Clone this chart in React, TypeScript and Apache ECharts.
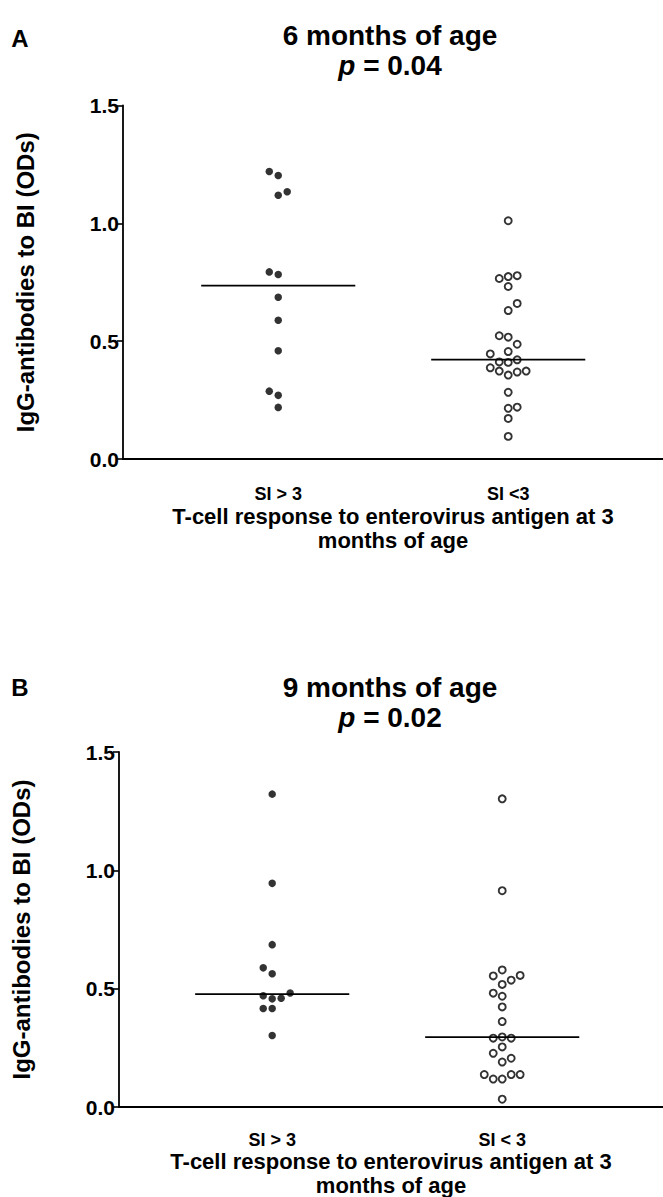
import React, { useEffect, useRef } from "react";
import * as echarts from "echarts";

// ---------- data ----------
const categoriesA = ["SI > 3", "SI <3"];
const categoriesB = ["SI > 3", "SI < 3"];
const tickLabels = ["0.0", "0.5", "1.0", "1.5"];

const titleA = "6 months of age";
const pA = "0.04";
const titleB = "9 months of age";
const pB = "0.02";
const yName = "IgG-antibodies to BI (ODs)";
const xName = "T-cell response to enterovirus antigen at 3\nmonths of age";

// Panel A: SI > 3 (filled)
const aHighValues = [1.22, 1.203, 1.119, 1.134, 0.794, 0.783, 0.686, 0.589, 0.459, 0.288, 0.27, 0.219];
const aHighCols = [-1, 0, 0, 1, -1, 0, 0, 0, 0, -1, 0, 0];
// Panel A: SI < 3 (open)
const aLowValues = [1.011, 0.766, 0.774, 0.778, 0.732, 0.66, 0.63, 0.523, 0.517, 0.487, 0.456, 0.446, 0.412, 0.41, 0.421, 0.387, 0.373, 0.356, 0.369, 0.373, 0.283, 0.215, 0.22, 0.172, 0.096];
const aLowCols = [0, -1, 0, 1, 0, 1, 0, -1, 0, 1, 0, -2, -1, 0, 1, -2, -1, 0, 1, 2, 0, 0, 1, 0, 0];
const mediansA = [0.736, 0.422];

// Panel B: SI > 3 (filled)
const bHighValues = [1.322, 0.945, 0.686, 0.588, 0.563, 0.482, 0.47, 0.457, 0.46, 0.416, 0.416, 0.302];
const bHighCols = [0, 0, 0, -1, 0, 2, -1, 0, 1, -1, 0, 0];
// Panel B: SI < 3 (open)
const bLowValues = [1.302, 0.914, 0.579, 0.554, 0.556, 0.536, 0.518, 0.481, 0.468, 0.423, 0.361, 0.291, 0.296, 0.291, 0.254, 0.227, 0.206, 0.19, 0.137, 0.118, 0.118, 0.137, 0.137, 0.033];
const bLowCols = [0, 0, 0, -1, 2, 1, 0, -1, 0, 0, 0, -1, 0, 1, 0, -1, 1, 0, -2, -1, 0, 1, 2, 0];
const mediansB = [0.477, 0.295];

// ---------- layout / style ----------
const FONT = "'Liberation Sans', Arial, sans-serif";
const JITTER = 0.039;
const HALF = 0.335;

function pts(center: number, values: number[], cols: number[]) {
  return values.map((v, i) => [center + cols[i] * JITTER, v]);
}
function medianLine(center: number, m: number) {
  return [
    [center - HALF, m],
    [center + HALF, m],
  ];
}

function xAxis(gridIndex: number, min: number, max: number, cats: string[], nameGap: number, labelMargin: number) {
  return {
    type: "value",
    gridIndex,
    min,
    max,
    axisLine: { show: true, onZero: false, lineStyle: { color: "#000", width: 1.8 } },
    axisTick: { show: false },
    splitLine: { show: false },
    axisLabel: {
      customValues: [1, 2],
      formatter: (v: number) => cats[Math.round(v) - 1] ?? "",
      color: "#000",
      fontFamily: FONT,
      fontWeight: "bold",
      fontSize: 18,
      margin: labelMargin,
    },
    name: xName,
    nameLocation: "middle",
    nameGap,
    nameTextStyle: {
      color: "#000",
      fontFamily: FONT,
      fontWeight: "bold",
      fontSize: 22,
      lineHeight: 24,
    },
  };
}

function yAxis(gridIndex: number) {
  return {
    type: "value",
    gridIndex,
    min: 0,
    max: 1.5,
    interval: 0.5,
    axisLine: { show: true, onZero: false, lineStyle: { color: "#000", width: 1.8 } },
    axisTick: { show: true, length: 6, lineStyle: { color: "#000", width: 1.6 } },
    splitLine: { show: false },
    axisLabel: {
      formatter: (v: number) => tickLabels[Math.round(v / 0.5)] ?? "",
      color: "#000",
      fontFamily: FONT,
      fontWeight: "bold",
      fontSize: 21,
      margin: 4,
    },
    name: yName,
    nameLocation: "middle",
    nameGap: 86,
    nameTextStyle: {
      color: "#000",
      fontFamily: FONT,
      fontWeight: "bold",
      fontSize: 24,
    },
  };
}

function scatter(xi: number, values: number[][], open: boolean) {
  return {
    type: "scatter",
    xAxisIndex: xi,
    yAxisIndex: xi,
    data: values,
    symbol: "circle",
    symbolSize: open ? 7 : 7.5,
    itemStyle: open
      ? { color: "#fff", borderColor: "#000", borderWidth: 1.9 }
      : { color: "#000" },
    silent: true,
  };
}

function median(xi: number, data: number[][]) {
  return {
    type: "line",
    xAxisIndex: xi,
    yAxisIndex: xi,
    data,
    symbol: "none",
    lineStyle: { color: "#000", width: 1.8 },
    silent: true,
  };
}

function titleText(x: number, y: number, t: string, p: string) {
  return {
    type: "text",
    x,
    y,
    style: {
      text: `{t|${t}}\n{i|p}{t| = ${p}}`,
      align: "center",
      verticalAlign: "middle",
      rich: {
        t: { fontFamily: FONT, fontWeight: "bold", fontSize: 28, lineHeight: 30, fill: "#000" },
        i: {
          fontFamily: FONT,
          fontWeight: "bold",
          fontStyle: "italic",
          fontSize: 28,
          lineHeight: 30,
          fill: "#000",
        },
      },
    },
  };
}

function letter(y: number, t: string) {
  return {
    type: "text",
    x: 20,
    y,
    style: {
      text: t,
      fontFamily: FONT,
      fontWeight: "bold",
      fontSize: 24,
      fill: "#000",
      align: "center",
      verticalAlign: "middle",
    },
  };
}

export default function App() {
  const ref = useRef<HTMLDivElement>(null);
  useEffect(() => {
    if (!ref.current) return;
    const chart = echarts.init(ref.current, undefined, { renderer: "svg" });
    chart.setOption({
      animation: false,
      backgroundColor: "#fff",
      grid: [
        { left: 123, top: 105.5, width: 540, height: 353.5, outerBoundsMode: "none", containLabel: false },
        { left: 119, top: 752, width: 544, height: 355, outerBoundsMode: "none", containLabel: false },
      ],
      xAxis: [
        xAxis(0, 0.325, 2.673, categoriesA, 45, 26),
        xAxis(1, 0.334, 2.699, categoriesB, 41, 24),
      ],
      yAxis: [yAxis(0), yAxis(1)],
      series: [
        median(0, medianLine(1, mediansA[0])),
        median(0, medianLine(2, mediansA[1])),
        scatter(0, pts(1, aHighValues, aHighCols), false),
        scatter(0, pts(2, aLowValues, aLowCols), true),
        median(1, medianLine(1, mediansB[0])),
        median(1, medianLine(2, mediansB[1])),
        scatter(1, pts(1, bHighValues, bHighCols), false),
        scatter(1, pts(2, bLowValues, bLowCols), true),
      ],
      graphic: [
        letter(38, "A"),
        letter(687, "B"),
        titleText(390, 50, titleA, pA),
        titleText(390, 702, titleB, pB),
      ],
    });
    return () => chart.dispose();
  }, []);
  return (
    <div
      ref={ref}
      style={{ position: "absolute", left: 0, top: 0, width: 663, height: 1197 }}
    />
  );
}
